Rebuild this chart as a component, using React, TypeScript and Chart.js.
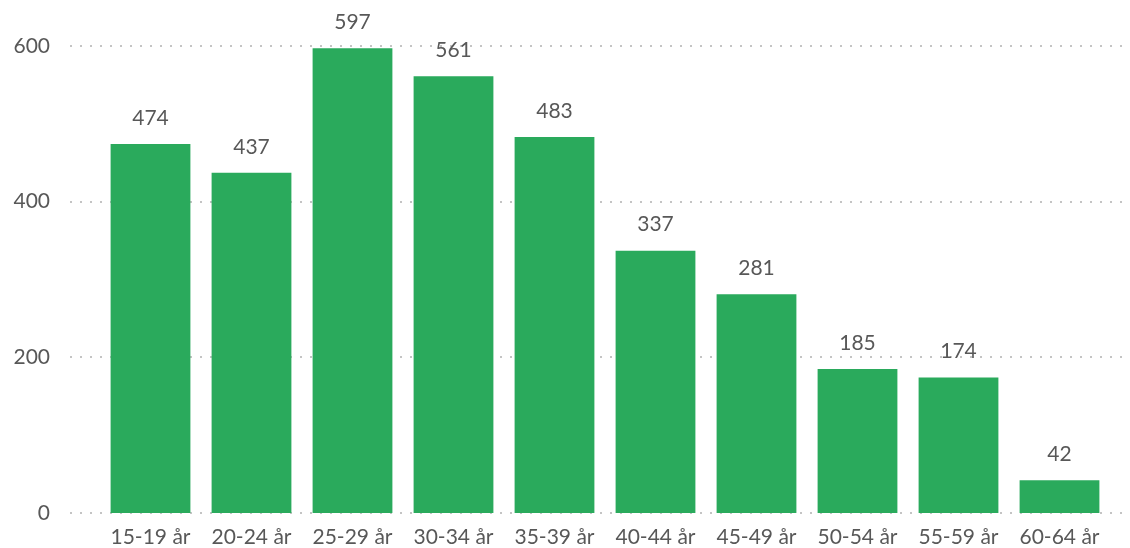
import React, { useEffect, useRef } from "react";
import { Chart, registerables } from "chart.js";

Chart.register(...registerables);

const categories = ["15-19 år", "20-24 år", "25-29 år", "30-34 år", "35-39 år", "40-44 år", "45-49 år", "50-54 år", "55-59 år", "60-64 år"];
const values = [474, 437, 597, 561, 483, 337, 281, 185, 174, 42];
const yTicks = [0, 200, 400, 600];

const FONT = "Lato, 'Noto Sans', sans-serif";
const TEXT = "#585858";
const GREEN = "#2aaa5c";

const dottedGrid = {
  id: "dottedGrid",
  beforeDatasetsDraw(chart: any) {
    const { ctx, scales } = chart;
    const y = scales.y;
    ctx.save();
    ctx.strokeStyle = "#c4c4c4";
    ctx.lineWidth = 2;
    ctx.setLineDash([2, 8]);
    for (const t of yTicks) {
      const py = Math.round(y.getPixelForValue(t));
      ctx.beginPath();
      ctx.moveTo(70, py);
      ctx.lineTo(chart.width, py);
      ctx.stroke();
    }
    ctx.restore();
  },
};

const valueLabels = {
  id: "valueLabels",
  afterDatasetsDraw(chart: any) {
    const { ctx } = chart;
    const meta = chart.getDatasetMeta(0);
    ctx.save();
    ctx.font = `21px ${FONT}`;
    ctx.fillStyle = TEXT;
    ctx.textAlign = "center";
    ctx.textBaseline = "middle";
    meta.data.forEach((bar: any, i: number) => {
      ctx.fillText(String(values[i]), bar.x, bar.y - 26);
    });
    ctx.restore();
  },
};

export default function App() {
  const ref = useRef<HTMLCanvasElement>(null);
  useEffect(() => {
    const chart = new Chart(ref.current!, {
      type: "bar",
      data: {
        labels: categories,
        datasets: [
          {
            data: values,
            backgroundColor: GREEN,
            barPercentage: 0.79,
            categoryPercentage: 1,
          },
        ],
      },
      options: {
        animation: false,
        responsive: false,
        maintainAspectRatio: false,
        layout: { padding: { left: 0, right: 20, top: 46, bottom: 0 } },
        plugins: { legend: { display: false }, tooltip: { enabled: false } },
        scales: {
          x: {
            grid: { display: false, drawTicks: false },
            border: { display: false },
            ticks: { color: TEXT, font: { family: FONT, size: 21 }, padding: 12, maxRotation: 0 },
            afterFit: (s: any) => { s.height = 35; s.paddingLeft = 0; s.paddingRight = 0; },
          },
          y: {
            min: 0,
            max: 600,
            grid: { display: false, drawTicks: false },
            border: { display: false },
            ticks: { stepSize: 200, color: TEXT, font: { family: FONT, size: 21 }, padding: 50 },
            afterFit: (s: any) => { s.width = 100; s.paddingTop = 0; s.paddingBottom = 0; },
          },
        },
      },
      plugins: [dottedGrid, valueLabels],
    });
    return () => chart.destroy();
  }, []);
  return (
    <div style={{ position: "fixed", left: 0, top: 0, width: 1130, height: 548, background: "#fff" }}>
      <canvas ref={ref} width={1130} height={548} />
    </div>
  );
}
